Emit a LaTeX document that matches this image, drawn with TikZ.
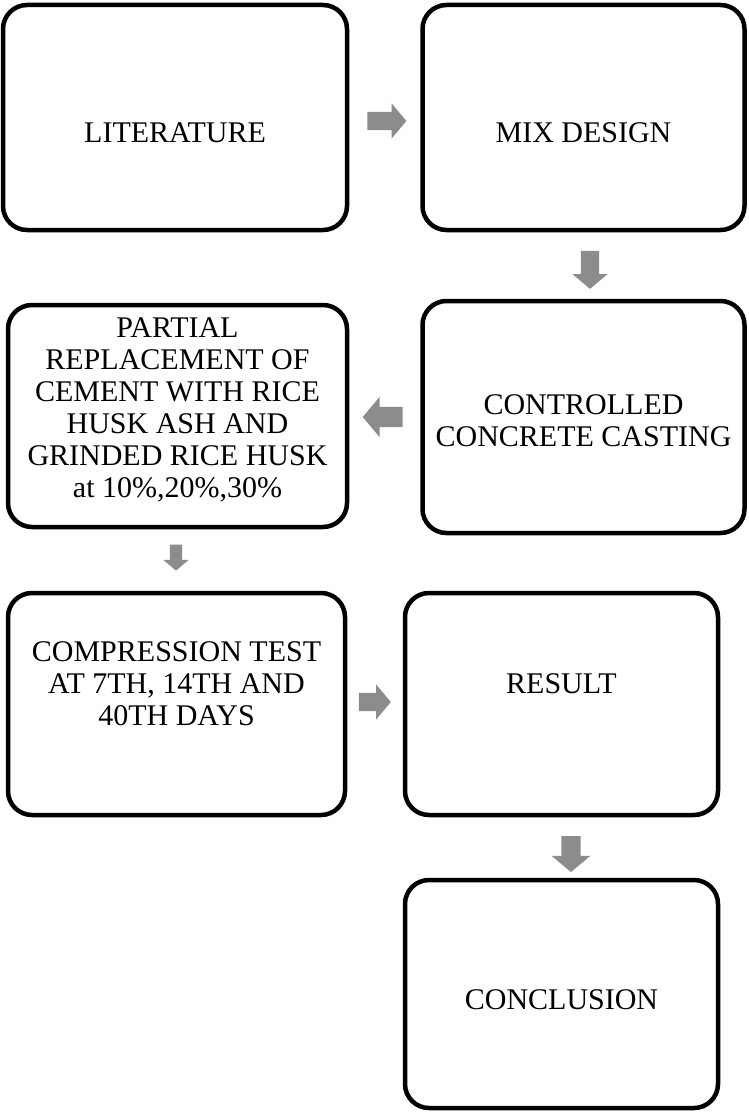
\documentclass[tikz,border=0pt]{standalone}
\usepackage{fontspec}
\setmainfont{Liberation Serif}
\usetikzlibrary{shapes.arrows}
\begin{document}
\begin{tikzpicture}[x=1pt,y=-1pt,
	stepbox/.style={draw,line width=4.5pt,rounded corners=24pt,inner sep=0pt},
	steptext/.style={align=center,inner sep=0pt,font=\fontsize{30}{32}\selectfont},
	grayarrow/.style={single arrow,fill=black!45,draw=none,inner sep=9pt,minimum height=38pt,single arrow head extend=8.5pt,single arrow tip angle=100}]
	\def\wl{344pt}
	\def\wr{322pt}
	\useasboundingbox (0,0) rectangle (748,1113);
	% boxes
	\node[stepbox,minimum width=\wl,minimum height=225pt] (lit) at (175,117.5) {};
	\node[stepbox,minimum width=\wr,minimum height=225pt] (mix) at (583.5,117.5) {};
	\node[stepbox,minimum width=\wr,minimum height=232pt] (cast) at (583.5,417) {};
	\node[stepbox,minimum width=339pt,minimum height=222pt] (rep) at (177.5,416) {};
	\node[stepbox,minimum width=337pt,minimum height=222pt] (comp) at (176.5,704) {};
	\node[stepbox,minimum width=313pt,minimum height=222pt] (res) at (561.5,704) {};
	\node[stepbox,minimum width=313pt,minimum height=228pt] (con) at (561.5,994) {};
	% texts
	\node[steptext] (lit text) at ([yshift=-15pt]lit.center) {LITERATURE};
	\node[steptext] (mix text) at ([yshift=-15pt]mix.center) {MIX DESIGN};
	\node[steptext] (cast text) at ([yshift=-4pt]cast.center) {CONTROLLED\\CONCRETE CASTING};
	\node[steptext] (rep text) at ([yshift=6pt]rep.center) {PARTIAL\\REPLACEMENT OF\\CEMENT WITH RICE\\HUSK ASH AND\\GRINDED RICE HUSK\\at 10\%,20\%,30\%};
	\node[steptext] (comp text) at ([yshift=20pt]comp.center) {COMPRESSION TEST\\AT 7TH, 14TH AND\\40TH DAYS};
	\node[steptext] (res text) at ([yshift=20pt]res.center) {RESULT};
	\node[steptext] (con text) at ([yshift=-6pt]con.center) {CONCLUSION};
	% gray arrows
	\node[grayarrow,minimum height=39pt] (a1) at (383,121) {};
	\node[grayarrow,shape border rotate=270] (a2) at (590,266) {};
	\node[grayarrow,shape border rotate=180,minimum height=40pt,inner sep=10pt,single arrow head extend=10pt] (a3) at (387,417) {};
	\node[grayarrow,shape border rotate=270,minimum height=26pt,inner sep=6pt,single arrow head extend=6.5pt] (a4) at (176,555) {};
	\node[grayarrow,minimum height=32pt] (a5) at (371,702) {};
	\node[grayarrow,shape border rotate=270,minimum height=36pt,inner sep=9.5pt,single arrow head extend=9.5pt] (a6) at (571,850) {};
\end{tikzpicture}
\end{document}
